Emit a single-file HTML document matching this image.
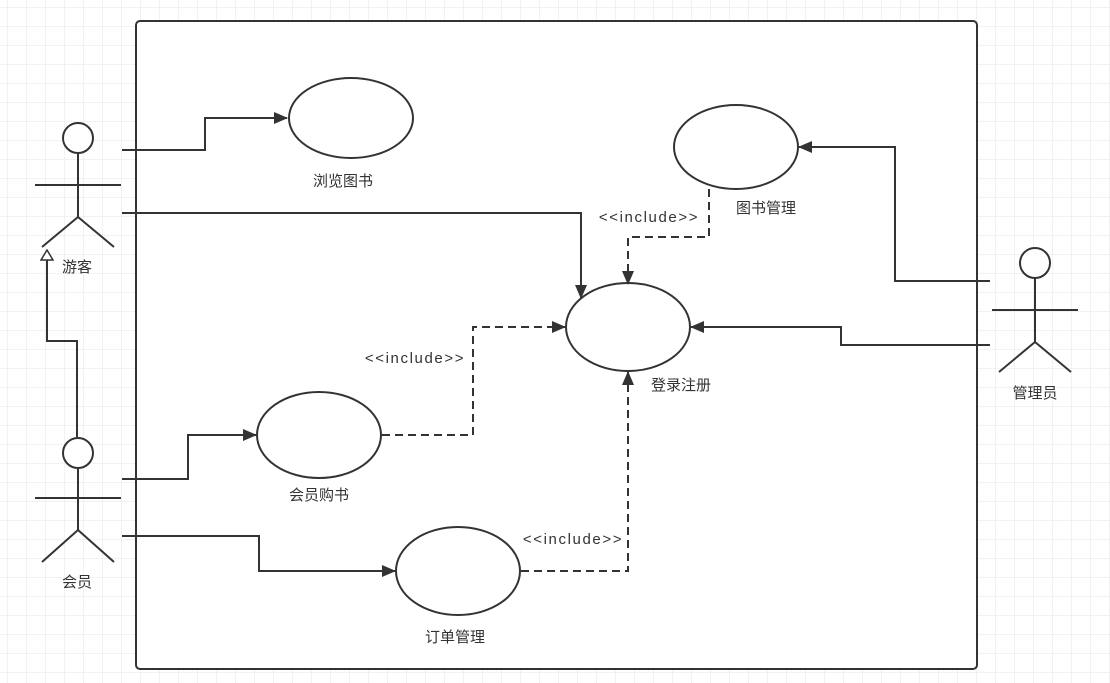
<!DOCTYPE html>
<html><head><meta charset="utf-8"><style>
html,body{margin:0;padding:0;background:#fff}
svg{display:block}
text{font-family:"Liberation Sans","Noto Sans CJK SC",sans-serif;font-size:15px;fill:#333}
</style></head><body>
<svg width="1110" height="683" viewBox="0 0 1110 683" xmlns="http://www.w3.org/2000/svg">
<defs>
<pattern id="g" width="19" height="19" patternUnits="userSpaceOnUse" x="8" y="8">
<path d="M19 0V19H0" fill="none" stroke="#e6e6e6" stroke-width="1"/>
</pattern>
<marker id="a" markerWidth="14" markerHeight="12" refX="13" refY="6" orient="auto" markerUnits="userSpaceOnUse">
<path d="M0 0L14 6L0 12Z" fill="#333"/>
</marker>
<marker id="t" markerWidth="12" markerHeight="14" refX="11" refY="7" orient="auto" markerUnits="userSpaceOnUse">
<path d="M1 1L11 7L1 13Z" fill="#fff" stroke="#333" stroke-width="1.5"/>
</marker>
</defs>
<rect width="1110" height="683" fill="url(#g)"/>
<rect x="136" y="21" width="841" height="648" rx="4" fill="#fff" stroke="#333" stroke-width="2"/>
<g fill="none" stroke="#333" stroke-width="2">
<circle cx="78" cy="138" r="15" fill="#fff"/>
<path d="M78 153V217M35 185H121M78 217L42 247M78 217L114 247"/>
<circle cx="78" cy="453" r="15" fill="#fff"/>
<path d="M78 468V530M35 498H121M78 530L42 562M78 530L114 562"/>
<circle cx="1035" cy="263" r="15" fill="#fff"/>
<path d="M1035 278V342M992 310H1078M1035 342L999 372M1035 342L1071 372"/>
<ellipse cx="351" cy="118" rx="62" ry="40"/>
<ellipse cx="736" cy="147" rx="62" ry="42"/>
<ellipse cx="628" cy="327" rx="62" ry="44"/>
<ellipse cx="319" cy="435" rx="62" ry="43"/>
<ellipse cx="458" cy="571" rx="62" ry="44"/>
<path d="M122 150H205V118H287" marker-end="url(#a)"/>
<path d="M122 213H581V298" marker-end="url(#a)"/>
<path d="M77 437V341H47V250" marker-end="url(#t)"/>
<path d="M122 479H188V435H256" marker-end="url(#a)"/>
<path d="M122 536H259V571H395" marker-end="url(#a)"/>
<path d="M990 281H895V147H799" marker-end="url(#a)"/>
<path d="M990 345H841V327H691" marker-end="url(#a)"/>
<g stroke-dasharray="8 5">
<path d="M382 435H473V327H565" marker-end="url(#a)"/>
<path d="M521 571H628V372" marker-end="url(#a)"/>
<path d="M709 189V237H628V284" marker-end="url(#a)"/>
</g>
</g>
<text x="77" y="272" text-anchor="middle">游客</text>
<text x="77" y="587" text-anchor="middle">会员</text>
<text x="1035" y="398" text-anchor="middle">管理员</text>
<text x="343" y="186" text-anchor="middle">浏览图书</text>
<text x="766" y="213" text-anchor="middle">图书管理</text>
<text x="681" y="390" text-anchor="middle">登录注册</text>
<text x="319" y="500" text-anchor="middle">会员购书</text>
<text x="455" y="642" text-anchor="middle">订单管理</text>
<text x="415" y="363" text-anchor="middle" letter-spacing="1.6">&lt;&lt;include&gt;&gt;</text>
<text x="573" y="544" text-anchor="middle" letter-spacing="1.6">&lt;&lt;include&gt;&gt;</text>
<text x="649" y="222" text-anchor="middle" letter-spacing="1.6">&lt;&lt;include&gt;&gt;</text>
</svg>
</body></html>
